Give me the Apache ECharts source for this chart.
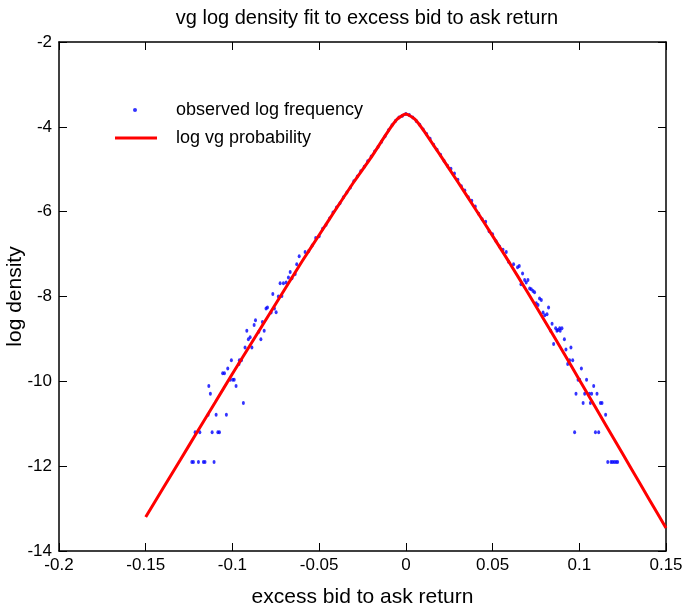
<!DOCTYPE html>
<html>
<head>
<meta charset="utf-8">
<script src="https://cdn.jsdelivr.net/npm/echarts@6/dist/echarts.min.js"></script>
<style>
  html, body { margin: 0; padding: 0; background: #fff; }
  #main { width: 683px; height: 610px; }
</style>
</head>
<body>
<div id="main"></div>
<script>
// axis ticks
const xTicks = [-0.2, -0.15, -0.1, -0.05, 0, 0.05, 0.1, 0.15];
const yTicks = [-14, -12, -10, -8, -6, -4, -2];

// observed log frequency: tails
const obsLeftTail = [
  [-0.0581, -6.95], [-0.0615, -7.05], [-0.0629, -7.24], [-0.0667, -7.42], [-0.0638, -7.47],
  [-0.0677, -7.55], [-0.0657, -7.57], [-0.0725, -7.69], [-0.0706, -7.69], [-0.069, -7.67],
  [-0.0767, -7.94], [-0.0735, -8.0], [-0.0715, -7.99], [-0.0798, -8.26], [-0.0806, -8.28],
  [-0.0758, -8.28], [-0.0777, -8.38], [-0.0748, -8.37], [-0.0867, -8.56], [-0.0875, -8.67],
  [-0.0827, -8.6], [-0.0817, -8.81], [-0.0848, -8.83], [-0.0917, -8.81], [-0.0898, -8.96],
  [-0.0908, -9.01], [-0.0836, -9.01], [-0.0927, -9.2], [-0.0888, -9.2], [-0.096, -9.5],
  [-0.0948, -9.5], [-0.1006, -9.5], [-0.0962, -9.59], [-0.1027, -9.7], [-0.1056, -9.81],
  [-0.1046, -9.81], [-0.1013, -9.96], [-0.099, -9.96], [-0.0998, -9.96], [-0.0979, -10.11],
  [-0.1136, -10.11], [-0.1127, -10.29], [-0.0937, -10.51], [-0.114, -10.79], [-0.1094, -10.79],
  [-0.1035, -10.79], [-0.1215, -11.2], [-0.1188, -11.2], [-0.1117, -11.2], [-0.1084, -11.2],
  [-0.1075, -11.2], [-0.1234, -11.9], [-0.1225, -11.9], [-0.1196, -11.9], [-0.1167, -11.9],
  [-0.1158, -11.9], [-0.1106, -11.9]
];
const obsCenter = [
  [-0.056, -6.93], [-0.054, -6.80], [-0.052, -6.62], [-0.050, -6.58], [-0.048, -6.40],
  [-0.046, -6.31], [-0.044, -6.16], [-0.042, -6.02], [-0.040, -5.90], [-0.038, -5.80],
  [-0.036, -5.66], [-0.034, -5.55], [-0.032, -5.43], [-0.030, -5.28], [-0.028, -5.17],
  [-0.026, -5.05], [-0.024, -4.94], [-0.022, -4.81], [-0.020, -4.70], [-0.018, -4.58],
  [-0.016, -4.47], [-0.014, -4.35], [-0.012, -4.22], [-0.010, -4.08], [-0.008, -3.96],
  [-0.006, -3.86], [-0.004, -3.78], [-0.002, -3.74], [0, -3.70], [0.002, -3.72],
  [0.004, -3.78], [0.006, -3.86], [0.008, -3.95], [0.010, -4.06], [0.012, -4.17],
  [0.014, -4.28], [0.016, -4.42], [0.018, -4.54], [0.020, -4.66], [0.022, -4.80],
  [0.024, -4.92], [0.026, -4.99], [0.028, -5.10], [0.030, -5.25], [0.032, -5.40],
  [0.034, -5.50], [0.036, -5.66], [0.038, -5.74], [0.040, -5.88], [0.042, -6.05],
  [0.044, -6.18], [0.046, -6.24], [0.048, -6.46], [0.050, -6.53], [0.052, -6.70],
  [0.054, -6.82], [0.056, -6.90]
];
const obsRightTail = [
  [0.0579, -6.95], [0.0592, -7.18], [0.0621, -7.24], [0.0644, -7.31], [0.0654, -7.28],
  [0.0673, -7.46], [0.0664, -7.71], [0.0685, -7.61], [0.0704, -7.61], [0.0694, -7.67],
  [0.0714, -7.81], [0.0723, -7.83], [0.0733, -7.87], [0.0742, -7.9], [0.0771, -8.05],
  [0.0781, -8.08], [0.0752, -8.16], [0.0762, -8.2], [0.0823, -8.26], [0.0791, -8.38],
  [0.0801, -8.44], [0.0814, -8.42], [0.0843, -8.64], [0.0835, -8.81], [0.0864, -8.75],
  [0.0877, -8.79], [0.0887, -8.75], [0.09, -8.75], [0.089, -8.81], [0.0871, -8.81],
  [0.0914, -9.01], [0.0852, -9.12], [0.0952, -9.2], [0.0923, -9.25], [0.0944, -9.5],
  [0.0962, -9.5], [0.0933, -9.59], [0.1012, -9.7], [0.0993, -9.96], [0.1002, -9.96],
  [0.1042, -9.96], [0.1083, -10.11], [0.0981, -10.29], [0.1031, -10.29], [0.1058, -10.29],
  [0.1071, -10.29], [0.1102, -10.29], [0.1022, -10.51], [0.1064, -10.51], [0.1122, -10.51],
  [0.1131, -10.51], [0.1152, -10.79], [0.0973, -11.2], [0.1093, -11.2], [0.1112, -11.2],
  [0.1164, -11.9], [0.1183, -11.9], [0.1192, -11.9], [0.1202, -11.9], [0.1212, -11.9],
  [0.1221, -11.9]
];

// log vg probability curve
const fitX = [-0.15, -0.14, -0.13, -0.12, -0.11, -0.10, -0.09, -0.08, -0.07, -0.06, -0.05,
  -0.04, -0.03, -0.02, -0.01, -0.005, 0, 0.005, 0.01, 0.02, 0.03, 0.04, 0.05, 0.06, 0.07,
  0.08, 0.09, 0.10, 0.11, 0.12, 0.13, 0.14, 0.15];
const fitY = [-13.2, -12.52, -11.85, -11.17, -10.5, -9.82, -9.16, -8.5, -7.84, -7.18, -6.55,
  -5.92, -5.3, -4.72, -4.09, -3.82, -3.70, -3.81, -4.07, -4.68, -5.3, -5.93, -6.57, -7.22, -7.89,
  -8.57, -9.26, -9.96, -10.66, -11.36, -12.06, -12.76, -13.46];

const chart = echarts.init(document.getElementById('main'));
const font = 'Liberation Sans, Arial, sans-serif';
const fmt = v => String(parseFloat(v.toFixed(2)));

const axisBase = {
  axisLine: { show: true, onZero: false, lineStyle: { color: '#000', width: 1.5 } },
  axisTick: { show: true, inside: true, length: 8, lineStyle: { color: '#000', width: 1 } },
  splitLine: { show: false }
};

chart.setOption({
  animation: false,
  backgroundColor: '#fff',
  title: {
    text: 'vg log density fit to excess bid to ask return',
    left: 362, top: 3, textAlign: 'center',
    textStyle: { fontFamily: font, fontSize: 20, fontWeight: 'normal', color: '#000' }
  },
  legend: [
    {
      data: ['observed log frequency'],
      orient: 'vertical', left: 133, top: 101, padding: 0,
      itemWidth: 4, itemHeight: 4,
      textStyle: { fontFamily: font, fontSize: 18, color: '#000', padding: [0, 0, 0, 34] }
    },
    {
      data: [{ name: 'log vg probability', icon: 'rect' }],
      orient: 'vertical', left: 115, top: 129, padding: 0,
      itemWidth: 42, itemHeight: 3,
      textStyle: { fontFamily: font, fontSize: 18, color: '#000', padding: [0, 0, 0, 14] }
    }
  ],
  grid: { left: 59, right: 17, top: 42, bottom: 59, outerBoundsMode: 'none', containLabel: false },
  xAxis: [
    Object.assign({}, axisBase, {
      type: 'value', min: -0.2, max: 0.15, interval: 0.05,
      name: 'excess bid to ask return', nameLocation: 'middle', nameGap: 36,
      nameTextStyle: { fontFamily: font, fontSize: 21, color: '#000' },
      axisLabel: { formatter: fmt, fontFamily: font, fontSize: 17, color: '#000', margin: 6 }
    }),
    Object.assign({}, axisBase, {
      type: 'value', position: 'top', min: -0.2, max: 0.15, interval: 0.05,
      axisLabel: { show: false }
    })
  ],
  yAxis: [
    Object.assign({}, axisBase, {
      type: 'value', min: -14, max: -2, interval: 2,
      name: 'log density', nameLocation: 'middle', nameGap: 33, nameMoveOverlap: false,
      nameTextStyle: { fontFamily: font, fontSize: 21, color: '#000' },
      axisLabel: { fontFamily: font, fontSize: 17, color: '#000', margin: 7 }
    }),
    Object.assign({}, axisBase, {
      type: 'value', position: 'right', min: -14, max: -2, interval: 2,
      axisLabel: { show: false }
    })
  ],
  series: [
    {
      name: 'observed log frequency',
      type: 'scatter',
      symbol: 'circle',
      symbolSize: [3, 4],
      itemStyle: { color: '#0000ff' },
      data: obsLeftTail.concat(obsCenter, obsRightTail)
    },
    {
      name: 'log vg probability',
      type: 'line',
      showSymbol: false,
      symbol: 'none',
      smooth: 0.2,
      lineStyle: { color: '#ff0000', width: 3 },
      itemStyle: { color: '#ff0000' },
      data: fitX.map((x, i) => [x, fitY[i]])
    }
  ]
});
</script>
</body>
</html>
